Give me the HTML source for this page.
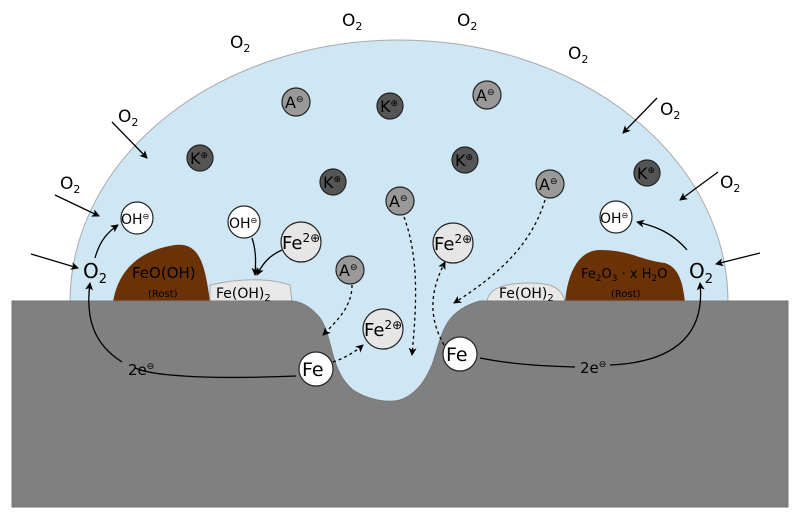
<!DOCTYPE html>
<html><head><meta charset="utf-8"><style>body{margin:0;background:#fff}svg{display:block}text{font-family:"DejaVu Sans","Liberation Sans",sans-serif;fill:#000}</style></head><body>
<svg width="800" height="520" viewBox="0 0 800 520" xmlns="http://www.w3.org/2000/svg">
<defs><marker id="a" markerWidth="8" markerHeight="8" refX="7" refY="4" orient="auto" markerUnits="userSpaceOnUse"><path d="M0,0 L8,4 L0,8 L2,4 Z" fill="#000"/></marker></defs>
<path d="M70,302 A329,262 0 0 1 728,302 Z" fill="#cfe6f5" stroke="#aaa" stroke-width="1"/>
<rect x="280" y="295" width="220" height="115" fill="#cfe6f5"/>
<path d="M113,302 C118,270 140,250 175,245 C200,242 205,265 210,302 Z" fill="#6b3208"/>
<path d="M210,302 L210,285 C240,278 270,278 290,285 L292,302 Z" fill="#e8e8e8" stroke="#aaa"/>
<path d="M487,302 C488,288 505,283 530,283 C550,283 562,287 565,302 Z" fill="#e8e8e8" stroke="#aaa"/>
<path d="M565,302 C568,270 580,250 600,250 C630,250 640,260 665,263 C680,268 683,285 685,302 Z" fill="#6b3208"/>
<path d="M12,301 L292,301 C305,302 315,312 320,318 C325,325 328,335 333,355 C337,370 343,382 353,390 C365,398 385,404 400,400 C415,395 425,382 432,365 C438,348 440,335 448,322 C455,312 465,305 480,301 L788,301 L788,507 L12,507 Z" fill="#808080" stroke="#777"/>
<g font-size="17"><text x="230" y="48">O<tspan font-size="11" dy="4">2</tspan></text><text x="342" y="26">O<tspan font-size="11" dy="4">2</tspan></text><text x="457" y="26">O<tspan font-size="11" dy="4">2</tspan></text><text x="568" y="59">O<tspan font-size="11" dy="4">2</tspan></text><text x="118" y="122">O<tspan font-size="11" dy="4">2</tspan></text><text x="660" y="115">O<tspan font-size="11" dy="4">2</tspan></text><text x="60" y="189">O<tspan font-size="11" dy="4">2</tspan></text><text x="720" y="188">O<tspan font-size="11" dy="4">2</tspan></text><text x="83" y="278" font-size="20">O<tspan font-size="13" dy="5">2</tspan></text><text x="689" y="278" font-size="20">O<tspan font-size="13" dy="5">2</tspan></text></g>
<g stroke="#000" stroke-width="1.3" fill="none" marker-end="url(#a)">
<line x1="112" y1="122" x2="147" y2="158"/><line x1="657" y1="98" x2="623" y2="133"/><line x1="55" y1="195" x2="99" y2="216"/><line x1="718" y1="172" x2="680" y2="200"/><line x1="31" y1="254" x2="78" y2="268"/><line x1="760" y1="253" x2="716" y2="264"/>
<path d="M95,258 C100,240 108,232 118,225"/><path d="M687,250 C670,230 650,225 637,222"/>
<path d="M252,238 C256,250 256,260 255,275"/><path d="M282,250 C268,256 262,265 257,275"/>
<path d="M296,376 C200,380 150,375 135,368 M122,362 C95,345 85,320 90,283"/>
<path d="M480,358 C510,364 540,366 575,367 M610,365 C680,362 705,330 700,283"/>
</g>
<text x="128" y="375" font-size="15">2e<tspan font-size="9" dy="-6">⊖</tspan></text>
<text x="580" y="373" font-size="15">2e<tspan font-size="9" dy="-6">⊖</tspan></text>
<g stroke="#000" stroke-width="1.3" fill="none" stroke-dasharray="3,3" marker-end="url(#a)">
<path d="M352,285 C352,305 340,318 323,335"/><path d="M333,362 C345,358 355,352 363,345"/>
<path d="M404,217 C420,260 416,310 412,355"/><path d="M444,345 C430,320 428,295 445,262"/>
<path d="M545,200 C530,250 490,280 454,303"/>
</g>
<g stroke="#222" stroke-width="1.2">
<g fill="#999"><circle cx="296" cy="102" r="14"/><circle cx="487" cy="95" r="14"/><circle cx="400" cy="201" r="14"/><circle cx="550" cy="184" r="14"/><circle cx="350" cy="270" r="14"/></g>
<g fill="#555"><circle cx="390" cy="106" r="13"/><circle cx="200" cy="158" r="13"/><circle cx="333" cy="182" r="13"/><circle cx="465" cy="160" r="13"/><circle cx="647" cy="173" r="13"/></g>
<g fill="#e6e6e6"><circle cx="301" cy="242" r="20"/><circle cx="453" cy="243" r="20"/><circle cx="383" cy="329" r="20"/></g>
<g fill="#fff"><circle cx="137" cy="218" r="16"/><circle cx="244" cy="222" r="16"/><circle cx="616" cy="217" r="16"/><circle cx="316" cy="369" r="17"/><circle cx="460" cy="354" r="17"/></g>
</g>
<g font-size="16"><text x="285" y="108">A<tspan font-size="9" dy="-6">⊖</tspan></text><text x="476" y="101">A<tspan font-size="9" dy="-6">⊖</tspan></text><text x="389" y="207">A<tspan font-size="9" dy="-6">⊖</tspan></text><text x="539" y="190">A<tspan font-size="9" dy="-6">⊖</tspan></text><text x="339" y="276">A<tspan font-size="9" dy="-6">⊖</tspan></text>
<text x="380" y="112">K<tspan font-size="9" dy="-6">⊕</tspan></text><text x="190" y="164">K<tspan font-size="9" dy="-6">⊕</tspan></text><text x="323" y="188">K<tspan font-size="9" dy="-6">⊕</tspan></text><text x="455" y="166">K<tspan font-size="9" dy="-6">⊕</tspan></text><text x="637" y="179">K<tspan font-size="9" dy="-6">⊕</tspan></text></g>
<g font-size="18"><text x="282" y="249">Fe<tspan font-size="12" dy="-7">2⊕</tspan></text><text x="434" y="250">Fe<tspan font-size="12" dy="-7">2⊕</tspan></text><text x="364" y="336">Fe<tspan font-size="12" dy="-7">2⊕</tspan></text></g>
<g font-size="14"><text x="121" y="224">OH<tspan font-size="8" dy="-5">⊖</tspan></text><text x="229" y="228">OH<tspan font-size="8" dy="-5">⊖</tspan></text><text x="600" y="223">OH<tspan font-size="8" dy="-5">⊖</tspan></text></g>
<text x="302" y="376" font-size="19">Fe</text><text x="446" y="361" font-size="19">Fe</text>
<text x="132" y="278" font-size="15" fill="#111">FeO(OH)</text><text x="148" y="297" font-size="10">(Rost)</text>
<text x="216" y="298" font-size="14">Fe(OH)<tspan font-size="10" dy="3">2</tspan></text>
<text x="499" y="298" font-size="14">Fe(OH)<tspan font-size="10" dy="3">2</tspan></text>
<text x="581" y="278" font-size="13">Fe<tspan font-size="9" dy="3">2</tspan><tspan dy="-3">O</tspan><tspan font-size="9" dy="3">3</tspan><tspan dy="-3"> · x H</tspan><tspan font-size="9" dy="3">2</tspan><tspan dy="-3">O</tspan></text>
<text x="611" y="297" font-size="10">(Rost)</text>
</svg>
</body></html>
